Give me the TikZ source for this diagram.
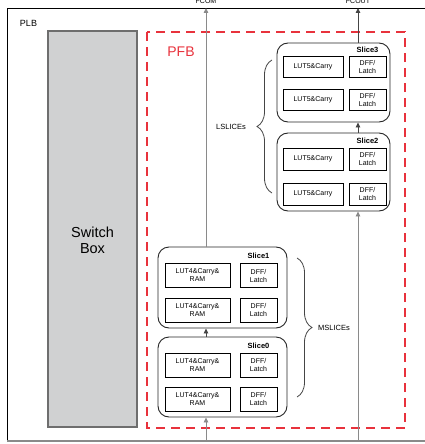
\documentclass[tikz,border=0pt]{standalone}
\usepackage{fontspec}
\setmainfont{Liberation Sans}
\usetikzlibrary{arrows.meta,decorations.pathreplacing}
\definecolor{pfbred}{HTML}{E8323C}
\definecolor{swfill}{HTML}{D0D1D2}
\definecolor{swedge}{HTML}{6E6E6E}
\definecolor{lineg}{HTML}{8A8A8A}
\definecolor{lined}{HTML}{454545}
\begin{document}
\begin{tikzpicture}[x=1pt,y=-1pt,
  slicebox/.style={draw=black!85, line width=0.9pt, rounded corners=11pt, inner sep=0pt},
  cellbox/.style={draw=black, line width=0.8pt, inner sep=0pt, align=center,
    font=\fontsize{7}{8}\selectfont},
  slicelabel/.style={font=\fontsize{7.5}{8}\selectfont\bfseries, inner sep=0pt},
  arr/.style={-{Triangle[length=5pt,width=4.5pt]}, line width=0.8pt},
  bracelabel/.style={font=\fontsize{7.5}{9}\selectfont, inner sep=0pt},
  bracepath/.style={decorate, decoration={brace, amplitude=15pt}, draw=lined, line width=0.8pt},
  portlabel/.style={font=\fontsize{7}{8}\selectfont, inner sep=0pt, anchor=base}]
\useasboundingbox (0,0) rectangle (425,444);
\clip (0,0) rectangle (425,444);

% PLB frame
\draw[black, line width=0.9pt] (7,441) -- (7,8) -- (425,8);
\draw[lineg, line width=2pt] (7,441) -- (425,441);
\node[font=\fontsize{9}{10}\selectfont, inner sep=0pt] (plb) at (28.5,23.5) {PLB};

% Switch box
\node[draw=swedge, fill=swfill, line width=1.3pt, minimum width=89pt, minimum height=396pt,
  inner sep=0pt] (sw) at (92.5,229) {};
\node[font=\fontsize{14.5}{16}\selectfont, align=center, inner sep=0pt] (swtext) at (92.5,240) {Switch\\Box};

% PFB region
\draw[pfbred, line width=1.2pt, dash pattern=on 9pt off 6pt] (147,32) rectangle (405,428);
\node[pfbred, font=\fontsize{14}{16}\selectfont, inner sep=0pt] (pfb) at (181,51.5) {PFB};

% LSLICE slices
\node[slicebox, minimum width=113pt, minimum height=79pt] (s3) at (333.5,82.5) {};
\node[slicebox, minimum width=113pt, minimum height=78pt] (s2) at (333.5,172) {};
\node[cellbox, minimum width=60pt, minimum height=21pt] (s3l1) at (313,66.5) {LUT5\&Carry};
\node[cellbox, minimum width=37pt, minimum height=21pt] (s3d1) at (367.5,66.5) {DFF/\\Latch};
\node[cellbox, minimum width=60pt, minimum height=21pt] (s3l2) at (313,99.5) {LUT5\&Carry};
\node[cellbox, minimum width=37pt, minimum height=21pt] (s3d2) at (367.5,99.5) {DFF/\\Latch};
\node[slicelabel] (s3t) at (367.5,50) {Slice3};
\node[cellbox, minimum width=60pt, minimum height=22pt] (s2l1) at (313,159) {LUT5\&Carry};
\node[cellbox, minimum width=37pt, minimum height=22pt] (s2d1) at (367.5,159) {DFF/\\Latch};
\node[cellbox, minimum width=60pt, minimum height=22pt] (s2l2) at (313,194) {LUT5\&Carry};
\node[cellbox, minimum width=37pt, minimum height=22pt] (s2d2) at (367.5,194) {DFF/\\Latch};
\node[slicelabel] (s2t) at (367.5,141) {Slice2};

% MSLICE slices
\node[slicebox, minimum width=129pt, minimum height=81pt] (s1) at (222.5,287.5) {};
\node[slicebox, minimum width=129pt, minimum height=80pt] (s0) at (222.5,377) {};
\node[cellbox, minimum width=65pt, minimum height=24pt] (s1l1) at (197.5,275.5) {LUT4\&Carry\&\\RAM};
\node[cellbox, minimum width=37pt, minimum height=24pt] (s1d1) at (258.5,275.5) {DFF/\\Latch};
\node[cellbox, minimum width=65pt, minimum height=24pt] (s1l2) at (197.5,310) {LUT4\&Carry\&\\RAM};
\node[cellbox, minimum width=37pt, minimum height=24pt] (s1d2) at (258.5,310) {DFF/\\Latch};
\node[slicelabel] (s1t) at (258.5,256) {Slice1};
\node[cellbox, minimum width=65pt, minimum height=24pt] (s0l1) at (197.5,365) {LUT4\&Carry\&\\RAM};
\node[cellbox, minimum width=37pt, minimum height=24pt] (s0d1) at (258.5,365) {DFF/\\Latch};
\node[cellbox, minimum width=65pt, minimum height=24pt] (s0l2) at (197.5,399) {LUT4\&Carry\&\\RAM};
\node[cellbox, minimum width=37pt, minimum height=24pt] (s0d2) at (258.5,399) {DFF/\\Latch};
\node[slicelabel] (s0t) at (258.5,346) {Slice0};

% Carry chain ports
\coordinate (fcomout) at (206,8);
\coordinate (fcomin) at (206,441);
\coordinate (fcoutout) at (358,8);
\coordinate (fcoutin) at (358,441);
\node[portlabel] (fcom) at (206,3.5) {FCOM};
\node[portlabel] (fcout) at (358,3.5) {FCOUT};

% Carry chain connectors
\draw[arr, lineg] (fcomin) -- (s0.south -| fcomin);
\draw[arr, lined] (s0.north -| fcomin) -- (s1.south -| fcomin);
\draw[arr, lineg] (s1.north -| fcomin) -- (fcomout);
\draw[arr, lineg] (fcoutin) -- (s2.south -| fcoutin);
\draw[arr, lined] (s2.north -| fcoutin) -- (s3.south -| fcoutin);
\draw[arr, lined] (s3.north -| fcoutin) -- (fcoutout);

% Slice groups
\draw[bracepath] (272,193) -- (272,60);
\node[bracelabel] (lsl) at (231,126.5) {LSLICEs};
\draw[bracepath] (297,258) -- (297,397);
\node[bracelabel] (msl) at (334,327.5) {MSLICEs};
\end{tikzpicture}
\end{document}
